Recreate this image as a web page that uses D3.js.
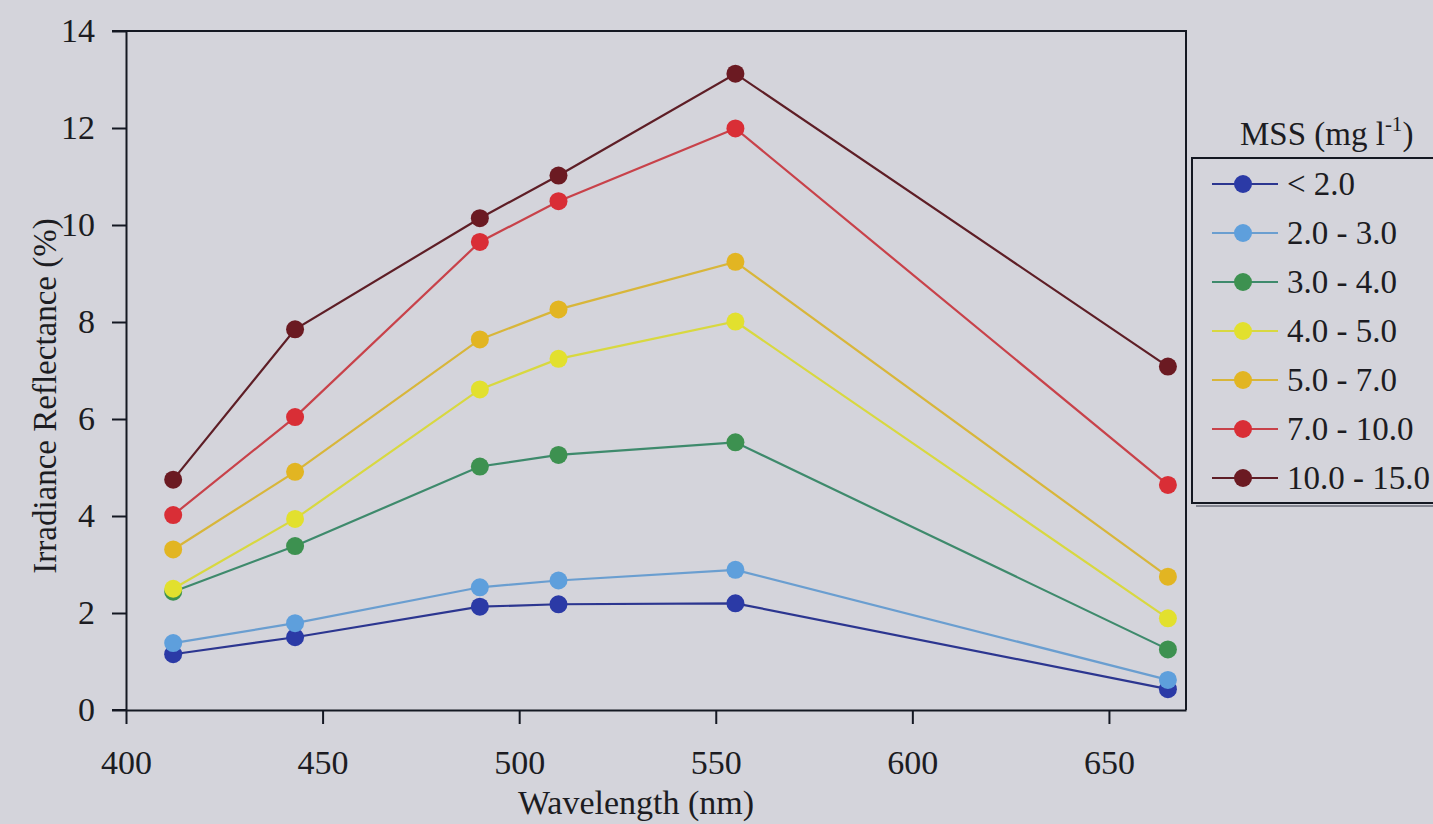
<!DOCTYPE html>
<html>
<head>
<meta charset="utf-8">
<script src="https://cdn.jsdelivr.net/npm/d3@7"></script>
<style>
  html, body { margin: 0; padding: 0; background: #d4d4db; }
  svg { display: block; font-family: "Liberation Serif", "Times New Roman", serif; }
</style>
</head>
<body>
<svg id="chart"></svg>
<script>
"use strict";

// wavelengths (nm) of the sampled bands
const wavelengths = [412, 443, 490, 510, 555, 665];

// MSS classes and their reflectance (%) at each band
const classes = ["< 2.0", "2.0 - 3.0", "3.0 - 4.0", "4.0 - 5.0", "5.0 - 7.0", "7.0 - 10.0", "10.0 - 15.0"];
const mss0 = [1.15, 1.50, 2.13, 2.18, 2.20, 0.43];
const mss1 = [1.38, 1.79, 2.53, 2.67, 2.89, 0.62];
const mss2 = [2.44, 3.38, 5.02, 5.26, 5.52, 1.25];
const mss3 = [2.50, 3.94, 6.61, 7.24, 8.01, 1.89];
const mss4 = [3.31, 4.91, 7.64, 8.26, 9.24, 2.75];
const mss5 = [4.02, 6.04, 9.65, 10.49, 11.99, 4.64];
const mss6 = [4.75, 7.85, 10.14, 11.02, 13.12, 7.08];

const xTicks = [400, 450, 500, 550, 600, 650];
const yTicks = [0, 2, 4, 6, 8, 10, 12, 14];

const markerColours = ["#2b3aa6", "#5e9fdc", "#3d9150", "#e2e02e", "#e2b522", "#d92e36", "#6b1a22"];
const lineColours   = ["#2c3690", "#6a9ed0", "#3e8a6c", "#d8d840", "#d8b63a", "#c8424a", "#5e1e26"];

const width = 1433, height = 824;
const svg = d3.select('svg#chart')
  .attr('width', width)
  .attr('height', height);

const plot = { left: 126, right: 1186, top: 31, bottom: 710 };

const x = d3.scaleLinear().domain([400, 669.6]).range([plot.left, plot.right]);
const y = d3.scaleLinear().domain([0, 14]).range([plot.bottom, plot.top]);

const axisColour = "#141822";
const textColour = "#1c1c22";

/* frame: top and right lines */
svg.append('path')
   .attr('d', `M${plot.left - 14},${plot.top}H${plot.right}V${plot.bottom}`)
   .attr('fill', 'none')
   .attr('stroke', axisColour)
   .attr('stroke-width', 2);

/* y axis */
const yAxis = svg.append('g')
  .attr('transform', `translate(${plot.left},0)`)
  .call(d3.axisLeft(y).tickValues(yTicks).tickSize(14).tickSizeOuter(0).tickPadding(17));

/* x axis */
const xAxis = svg.append('g')
  .attr('transform', `translate(0,${plot.bottom})`)
  .call(d3.axisBottom(x).tickValues(xTicks).tickSize(14).tickSizeOuter(0));

[yAxis, xAxis].forEach(a => {
  a.select('.domain').attr('stroke', axisColour).attr('stroke-width', 2);
  a.selectAll('.tick line').attr('stroke', axisColour).attr('stroke-width', 2);
  a.selectAll('.tick text')
   .attr('fill', textColour)
   .style('font-family', '"Liberation Serif", serif');
});
yAxis.selectAll('.tick text').style('font-size', '34px');
xAxis.selectAll('.tick text')
     .style('font-size', '34px')
     .attr('y', 64)
     .attr('dy', 0);

/* bottom axis reaches a bit left of the y axis */
svg.append('line')
   .attr('x1', plot.left - 14).attr('x2', plot.left)
   .attr('y1', plot.bottom).attr('y2', plot.bottom)
   .attr('stroke', axisColour).attr('stroke-width', 2);

/* axis titles */
svg.append('text')
   .attr('text-anchor', 'middle')
   .attr('x', 636)
   .attr('y', 814)
   .attr('fill', textColour)
   .style('font-size', '34px')
   .text('Wavelength (nm)');

svg.append('text')
   .attr('text-anchor', 'middle')
   .attr('transform', 'translate(56,396) rotate(-90)')
   .attr('fill', textColour)
   .style('font-size', '33px')
   .text('Irradiance Reflectance (%)');

/* series */
const series = [mss0, mss1, mss2, mss3, mss4, mss5, mss6];
const line = d3.line()
  .x((d, i) => x(wavelengths[i]))
  .y(d => y(d));

series.forEach((values, k) => {
  const g = svg.append('g').attr('class', `series-${k}`);
  g.append('path')
   .datum(values)
   .attr('d', line)
   .attr('fill', 'none')
   .attr('stroke', lineColours[k])
   .attr('stroke-width', 2.2);
  g.selectAll('circle')
   .data(values)
   .enter()
   .append('circle')
   .attr('cx', (d, i) => x(wavelengths[i]))
   .attr('cy', d => y(d))
   .attr('r', 9)
   .attr('fill', markerColours[k]);
});

/* legend */
const legend = { left: 1192, top: 158, bottom: 503, rowTop: 184, rowStep: 49 };

const title = svg.append('text')
   .attr('x', 1240)
   .attr('y', 145)
   .attr('fill', textColour)
   .style('font-size', '33px');
title.append('tspan').text('MSS (mg l');
title.append('tspan')
     .attr('dy', -14)
     .style('font-size', '21px')
     .text('-1');
title.append('tspan')
     .attr('dy', 14)
     .text(')');

svg.append('rect')
   .attr('x', legend.left)
   .attr('y', legend.top)
   .attr('width', width - legend.left + 10)
   .attr('height', legend.bottom - legend.top)
   .attr('fill', 'none')
   .attr('stroke', axisColour)
   .attr('stroke-width', 2);
svg.append('line')
   .attr('x1', legend.left + 4).attr('x2', width)
   .attr('y1', legend.bottom + 3).attr('y2', legend.bottom + 3)
   .attr('stroke', '#6a6c78').attr('stroke-width', 1.5);

const rows = svg.selectAll('g.legend-row')
  .data(classes)
  .enter()
  .append('g')
  .attr('class', 'legend-row')
  .attr('transform', (d, i) => `translate(0,${legend.rowTop + i * legend.rowStep})`);

rows.append('line')
    .attr('x1', 1212).attr('x2', 1278)
    .attr('y1', 0).attr('y2', 0)
    .attr('stroke', (d, i) => lineColours[i])
    .attr('stroke-width', 2.2);
rows.append('circle')
    .attr('cx', 1243).attr('cy', 0).attr('r', 9)
    .attr('fill', (d, i) => markerColours[i]);
rows.append('text')
    .attr('x', 1287)
    .attr('y', 11)
    .attr('fill', textColour)
    .style('font-size', '33px')
    .text(d => d);
</script>
</body>
</html>
